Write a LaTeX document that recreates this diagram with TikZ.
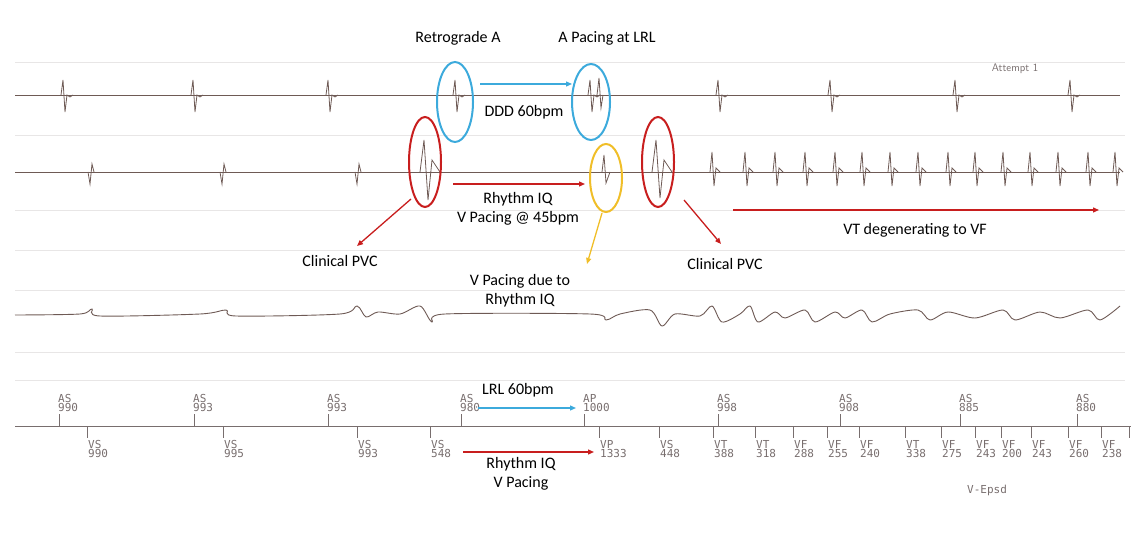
\documentclass[tikz,border=0pt]{standalone}
\usepackage{fontspec}
\setmainfont{Carlito}
\newfontfamily\markfont{DejaVu Sans Mono}
\usetikzlibrary{arrows.meta}
\definecolor{ecg}{RGB}{110,90,85}
\definecolor{grid}{RGB}{232,230,230}
\definecolor{mblue}{RGB}{60,170,220}
\definecolor{mred}{RGB}{200,30,30}
\definecolor{myel}{RGB}{240,190,40}
\definecolor{mk}{RGB}{120,110,110}
\tikzset{
  trace/.style={draw=ecg,line width=0.9pt},
  gridl/.style={draw=grid,line width=0.6pt},
  lbl/.style={font=\fontsize{16}{19}\selectfont,align=center,inner sep=1pt},
  oval/.style={line width=2pt},
  arr/.style={line width=1.3pt,-{Triangle[length=6pt,width=5pt]}},
  mtxt/.style={font=\markfont\fontsize{11}{9.5}\selectfont,text=mk,align=left,inner sep=0pt,anchor=south west},
  mtxtb/.style={font=\markfont\fontsize{11}{9.5}\selectfont,text=mk,align=left,inner sep=0pt,anchor=north west},
}
\begin{document}
\begin{tikzpicture}[x=1pt,y=-1pt]
\useasboundingbox (0,0) rectangle (1140,545);
% faint grid
\foreach \yy in {62,135,210,250,290,352,380}{\draw[gridl] (15,\yy) -- (1125,\yy);}
% trace 1
\draw[trace] (15,95) -- (1120,95);
\foreach \bx in {63,193,328,455,590,718,830,955,1070}{
  \draw[trace,line width=0.8pt] (\bx-2,95) -- (\bx,80) -- (\bx+2,112) -- (\bx+4,95) -- (\bx+7,97) -- (\bx+10,95);}
\draw[trace,line width=0.8pt] (597,95) -- (599,78) -- (601,108) -- (603,95);
% trace 2
\draw[trace] (15,172) -- (1120,172);
\foreach \bx in {90,222,357}{
  \draw[trace,line width=0.8pt] (\bx-2,172) -- (\bx,184) -- (\bx+2,164) -- (\bx+4,172);}
\draw[trace,line width=0.8pt] (420,172) -- (424,140) -- (428,200) -- (432,160) -- (440,172);
\draw[trace,line width=0.8pt] (602,172) -- (604,155) -- (606,183) -- (610,172);
\draw[trace,line width=0.8pt] (652,172) -- (656,140) -- (660,198) -- (664,160) -- (672,172);
\foreach \bx in {712,745,775,805,835,862,890,918,948,975,1003,1030,1058,1088,1115}{
  \draw[trace,line width=0.8pt] (\bx-2,172) -- (\bx,152) -- (\bx+2,186) -- (\bx+4,168) -- (\bx+8,172);}
% trace 3
\draw[trace] plot[smooth] coordinates {(15,315) (80,314) (92,309) (100,316) (200,314) (226,310) (236,316) (340,314) (357,306) (366,317) (378,312) (400,314) (420,306) (432,322) (445,314) (590,314) (606,320) (620,314) (650,310) (662,326) (675,314) (700,316) (712,306) (722,322) (740,314) (750,306) (758,322) (775,312) (785,318) (805,310) (815,322) (835,312) (845,318) (862,310) (872,322) (890,314) (918,310) (930,320) (948,312) (975,318) (1003,310) (1015,320) (1040,312) (1060,318) (1088,310) (1100,320) (1120,306)};
% marker channel
\draw[draw=mk,line width=1pt] (15,426) -- (1131,426);
\foreach \ax/\t in {59/{AS\\990},194/{AS\\993},328/{AS\\993},461/{AS\\980},584/{AP\\1000},718/{AS\\998},840/{AS\\908},960/{AS\\885},1077/{AS\\880}}{
  \draw[draw=mk,line width=0.8pt] (\ax,426) -- (\ax,414);
  \node[mtxt] at (\ax-1,412) {\t};}
\foreach \vx/\t in {87/{VS\\990},223/{VS\\995},357/{VS\\993},430/{VS\\548},599/{VP\\1333},659/{VS\\448},713/{VT\\388},755/{VT\\318},793/{VF\\288},827/{VF\\255},859/{VF\\240},905/{VT\\338},941/{VF\\275},975/{VF\\243},1001/{VF\\200},1031/{VF\\243},1068/{VF\\260},1101/{VF\\238}}{
  \draw[draw=mk,line width=0.8pt] (\vx,426) -- (\vx,438);
  \node[mtxtb] at (\vx+1,440) {\t};}
\draw[draw=mk,line width=0.8pt] (1129,426) -- (1129,438);
\node[font=\markfont\fontsize{11}{12}\selectfont,text=mk] (ve) at (987,490) {V-Epsd};
\node[font=\sffamily\fontsize{11}{12}\selectfont,text=mk] (att) at (1015,69) {Attempt 1};
% annotations
\node[lbl] (retro) at (458,38) {Retrograde A};
\node[lbl] (apace) at (607,38) {A Pacing at LRL};
\draw[mblue,oval] (455,102) ellipse (18 and 40);
\draw[mblue,oval] (591,102) ellipse (19 and 38);
\coordinate (b1s) at (480,84); \coordinate (b1e) at (572,84);
\draw[mblue,arr] (b1s) -- (b1e);
\node[lbl] (ddd) at (524,112) {DDD 60bpm};
\draw[mred,oval] (425,162) ellipse (16 and 45);
\draw[mred,oval] (658,162) ellipse (16 and 45);
\draw[myel,oval] (606,178) ellipse (16 and 34);
\coordinate (r1s) at (453,184); \coordinate (r1e) at (585,184);
\draw[mred,arr] (r1s) -- (r1e);
\node[lbl] (riq) at (518,209) {Rhythm IQ\\V Pacing @ 45bpm};
\node[lbl] (pvc1) at (340,261) {Clinical PVC};
\coordinate (p1s) at (411,199);
\draw[mred,arr] (p1s) -- (357,246);
\node[lbl] (vpd) at (520,291) {V Pacing due to\\Rhythm IQ};
\coordinate (y1s) at (602,213);
\draw[myel,arr] (y1s) -- (587,264);
\node[lbl] (pvc2) at (725,264) {Clinical PVC};
\coordinate (p2s) at (684,200);
\draw[mred,arr] (p2s) -- (721,244);
\coordinate (vts) at (733,210); \coordinate (vte) at (1099,210);
\draw[mred,arr] (vts) -- (vte);
\node[lbl] (vt) at (915,230) {VT degenerating to VF};
\node[lbl] (lrl) at (518,390) {LRL 60bpm};
\coordinate (l1s) at (478,408); \coordinate (l1e) at (576,408);
\draw[mblue,arr] (l1s) -- (l1e);
\coordinate (l2s) at (463,452); \coordinate (l2e) at (594,452);
\draw[mred,arr] (l2s) -- (l2e);
\node[lbl] (riq2) at (521,474) {Rhythm IQ\\V Pacing};
\end{tikzpicture}
\end{document}
